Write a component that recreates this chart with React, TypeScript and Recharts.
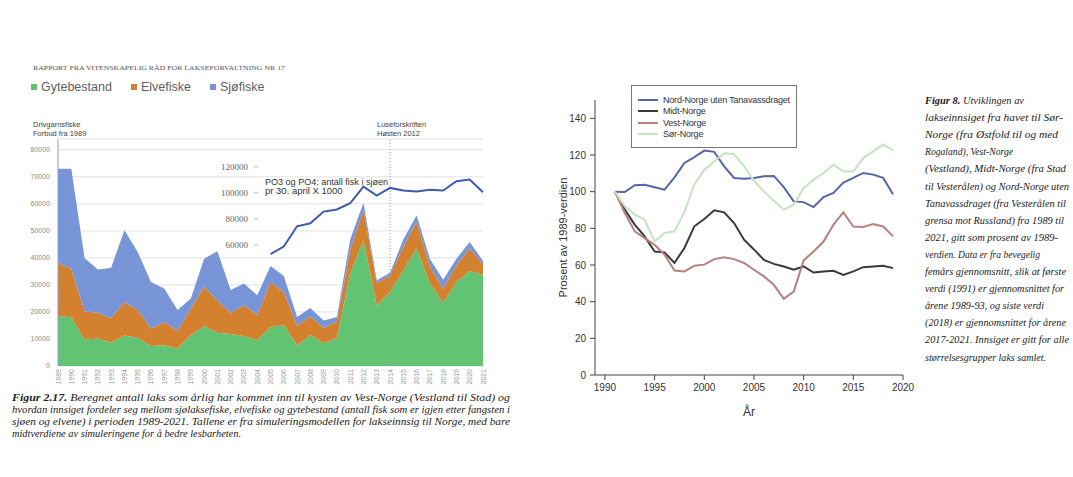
import React from "react";
import {
  ComposedChart,
  LineChart,
  Area,
  Line,
  XAxis,
  YAxis,
  CartesianGrid,
  ReferenceLine,
  Legend,
} from "recharts";

// Figur 2.17 – Vest-Norge
const aar = [
  1989, 1990, 1991, 1992, 1993, 1994, 1995, 1996, 1997, 1998, 1999, 2000, 2001, 2002, 2003, 2004, 2005,
  2006, 2007, 2008, 2009, 2010, 2011, 2012, 2013, 2014, 2015, 2016, 2017, 2018, 2019, 2020, 2021,
];
const gytebestand = [
  18500, 18000, 9800, 10200, 8700, 11300, 10500, 7400, 7700, 6500, 11400, 14800, 12300, 11800, 11100,
  9600, 14300, 15200, 7600, 11500, 8400, 10400, 34200, 46500, 22400, 27400, 35400, 43500, 30500, 23400,
  31100, 35200, 33800,
];
const elvefiske = [
  19800, 18000, 10500, 9500, 9100, 12400, 10200, 6500, 8500, 6500, 9900, 14500, 11800, 7900, 11400, 9300,
  16700, 12200, 7400, 6800, 5700, 6200, 8600, 11200, 8400, 6100, 8700, 9900, 6400, 5200, 6200, 8300, 3800,
];
const sjofiske = [
  34700, 37000, 19700, 16000, 18600, 26500, 21500, 17200, 12500, 7700, 3700, 10400, 18400, 8400, 8000,
  7300, 6000, 5900, 3100, 3200, 2700, 1500, 4000, 2700, 900, 1000, 2700, 2400, 2800, 3300, 2400, 2400, 1300,
];
const po34 = [
  null, null, null, null, null, null, null, null, null, null, null, null, null, null, null, null,
  53000, 58700, 74300, 76600, 85600, 87200, 92000, 104800, 97900, 103800, 101800, 101000, 102300, 101800,
  108900, 110200, 100500,
];
const venstreTicks = [0, 10000, 20000, 30000, 40000, 50000, 60000, 70000, 80000];
const poTicks = [60000, 80000, 100000, 120000];

// Figur 8 – prosent av 1989-verdien
const fylkeAar = [
  1991, 1992, 1993, 1994, 1995, 1996, 1997, 1998, 1999, 2000, 2001, 2002, 2003, 2004, 2005, 2006, 2007,
  2008, 2009, 2010, 2011, 2012, 2013, 2014, 2015, 2016, 2017, 2018, 2019,
];
const nordNorge = [
  100, 99.8, 103.5, 103.8, 102.4, 101.1, 107.8, 115.7, 118.8, 122.4, 121.7, 113.8, 107.5, 107.1, 107.5,
  108.4, 108.6, 102.5, 94.7, 94.3, 91.6, 97.1, 99.3, 105, 107.5, 110.2, 109.3, 107.5, 98.6,
];
const midtNorge = [
  100, 90.2, 82, 75.6, 67.4, 66.9, 61.1, 69.3, 81.1, 85.1, 89.8, 88.7, 82.9, 73.8, 68.5, 62.8, 60.6, 59.2,
  57.4, 59.2, 55.9, 56.5, 56.8, 54.6, 56.5, 58.8, 59.2, 59.6, 58.3,
];
const vestNorge = [
  100, 88.4, 78.4, 74.7, 71, 65.6, 57, 56.5, 59.6, 60.2, 63.2, 64.2, 63.2, 61.1, 57.4, 53.8, 49.2, 41.5,
  45.5, 62.5, 67.4, 72.8, 82, 88.7, 81, 80.7, 82.3, 81, 75.6,
];
const sorNorge = [
  100, 92, 87.5, 84.7, 72.9, 77.5, 78.4, 89, 104, 112, 116.5, 121, 120.5, 114, 106, 100, 95, 90.2, 92.9,
  102, 106.5, 110.2, 114.7, 111, 111, 118.4, 122, 125.7, 122.6,
];
const hoyreYTicks = [0, 20, 40, 60, 80, 100, 120, 140];
const hoyreXTicks = [1990, 1995, 2000, 2005, 2010, 2015, 2020];

const venstreRader = aar.map((a, i) => ({
  aar: String(a),
  gyte: gytebestand[i],
  elv: elvefiske[i],
  sjo: sjofiske[i],
  po: po34[i],
}));

const hoyreRader = fylkeAar.map((a, i) => ({
  aar: a,
  nord: nordNorge[i],
  midt: midtNorge[i],
  vest: vestNorge[i],
  sor: sorNorge[i],
}));

const arealer = [
  { key: "gyte", navn: "Gytebestand", farge: "#62c372" },
  { key: "elv", navn: "Elvefiske", farge: "#d4812f" },
  { key: "sjo", navn: "Sjøfiske", farge: "#7895d7" },
];

const fylker = [
  { key: "nord", navn: "Nord-Norge uten Tanavassdraget", farge: "#5566a8" },
  { key: "midt", navn: "Midt-Norge", farge: "#3a3a3a" },
  { key: "vest", navn: "Vest-Norge", farge: "#b5827f" },
  { key: "sor", navn: "Sør-Norge", farge: "#c6e2c1" },
];

const sans = "'Liberation Sans', Arial, sans-serif";
const serif = "'Liberation Serif', 'Times New Roman', serif";

const AarTick = ({ x, y, payload }: any) => (
  <text
    x={x}
    y={y}
    transform={`rotate(-90, ${x}, ${y})`}
    textAnchor="end"
    dy={2.5}
    fontSize={7}
    fill="#9a9a9a"
    fontFamily={sans}
  >
    {payload.value}
  </text>
);

const poLabel = (v: number) => (props: any) => {
  const vb = props.viewBox;
  const x = vb.x + 190;
  return (
    <g>
      <text x={x} y={vb.y} dy={3} textAnchor="end" fontSize={9} fill="#666" fontFamily={serif}>
        {v}
      </text>
      <line x1={x + 6} x2={x + 10} y1={vb.y} y2={vb.y} stroke="#bbb" />
    </g>
  );
};

const VenstreLegend = () => (
  <div style={{ display: "flex", fontFamily: sans, fontSize: 12.5, color: "#606060", whiteSpace: "nowrap" }}>
    {arealer.map((a) => (
      <div key={a.key} style={{ display: "flex", alignItems: "center", marginRight: 19 }}>
        <span style={{ width: 6, height: 6, background: a.farge, marginRight: 4 }} />
        {a.navn}
      </div>
    ))}
  </div>
);

const HoyreLegend = () => (
  <div
    style={{
      width: 166,
      height: 63,
      boxSizing: "border-box",
      border: "1px solid #777",
      background: "#fff",
      padding: "8px 0 0 6px",
      fontFamily: sans,
      fontSize: 9,
      letterSpacing: -0.2,
      color: "#333",
      whiteSpace: "nowrap",
    }}
  >
    {fylker.map((f) => (
      <div key={f.key} style={{ display: "flex", alignItems: "center", height: 11.5 }}>
        <span style={{ width: 20, height: 2, background: f.farge, marginRight: 5, flexShrink: 0 }} />
        {f.navn}
      </div>
    ))}
  </div>
);

const venstreTekst = [
  "Beregnet antall laks som årlig har kommet inn til kysten av Vest-Norge (Vestland til Stad) og",
  "hvordan innsiget fordeler seg mellom sjølaksefiske, elvefiske og gytebestand (antall fisk som er igjen etter fangsten i",
  "sjøen og elvene) i perioden 1989-2021. Tallene er fra simuleringsmodellen for lakseinnsig til Norge, med bare",
  "midtverdiene av simuleringene for å bedre lesbarheten.",
];
const venstreBredde = [498, 498, 498, 229];

const hoyreTekst = [
  "Utviklingen av",
  "lakseinnsiget fra havet til Sør-",
  "Norge (fra Østfold til og med",
  "Rogaland), Vest-Norge",
  "(Vestland), Midt-Norge (fra Stad",
  "til Vesterålen) og Nord-Norge uten",
  "Tanavassdraget (fra Vesterålen til",
  "grensa mot Russland) fra 1989 til",
  "2021, gitt som prosent av 1989-",
  "verdien. Data er fra bevegelig",
  "femårs gjennomsnitt, slik at første",
  "verdi (1991) er gjennomsnittet for",
  "årene 1989-93, og siste verdi",
  "(2018) er gjennomsnittet for årene",
  "2017-2021. Innsiget er gitt for alle",
  "størrelsesgrupper laks samlet.",
];
const hoyreBredde = [99, 138, 133, 88, 141, 144, 141, 139, 133, 115, 141, 139, 119, 141, 144, 121];

export default function App() {
  return (
    <div style={{ position: "absolute", left: 0, top: 0, width: 1073, height: 477, background: "#fff" }}>
      <div style={{ position: "absolute", left: 0, top: 0 }}>
        <ComposedChart
          width={540}
          height={386}
          data={venstreRader}
          margin={{ top: 139, right: 57, bottom: 0, left: 0 }}
        >
          <CartesianGrid vertical={false} stroke="#e2e2e2" />
          <XAxis
            dataKey="aar"
            interval={0}
            height={20}
            axisLine={false}
            tickLine={false}
            tickSize={0}
            tickMargin={3}
            tick={<AarTick />}
          />
          <YAxis
            domain={[0, 84000]}
            ticks={venstreTicks}
            width={58}
            axisLine={false}
            tickLine={false}
            tickSize={0}
            tickMargin={8}
            tick={{ fontSize: 7, fill: "#8a8a8a", fontFamily: sans }}
          />
          <YAxis yAxisId="po" hide domain={[-33077, 141385]} ticks={poTicks} />
          {arealer.map((a) => (
            <Area
              key={a.key}
              dataKey={a.key}
              name={a.navn}
              stackId="laks"
              type="linear"
              fill={a.farge}
              fillOpacity={1}
              stroke="none"
              isAnimationActive={false}
            />
          ))}
          <ReferenceLine x="1989" stroke="#86a0da" />
          <ReferenceLine x="2014" stroke="#999" strokeDasharray="1 2" />
          {poTicks.map((v) => (
            <ReferenceLine key={v} yAxisId="po" y={v} stroke="none" label={poLabel(v)} />
          ))}
          <Line
            yAxisId="po"
            dataKey="po"
            name="PO3 og PO4"
            type="linear"
            stroke="#3d5aae"
            strokeWidth={2}
            dot={false}
            legendType="none"
            isAnimationActive={false}
          />
          <Legend
            layout="vertical"
            align="center"
            verticalAlign="middle"
            wrapperStyle={{ left: 31, top: 80, width: 300 }}
            content={() => <VenstreLegend />}
          />
        </ComposedChart>
      </div>

      <div style={{ position: "absolute", left: 540, top: 0 }}>
        <LineChart
          width={400}
          height={440}
          data={hoyreRader}
          margin={{ top: 100, right: 37, bottom: 35, left: 10 }}
        >
          <XAxis
            dataKey="aar"
            type="number"
            domain={[1989, 2020]}
            ticks={hoyreXTicks}
            height={30}
            stroke="#444"
            tickSize={5}
            tickMargin={4}
            tick={{ fontSize: 10, fill: "#333", fontFamily: sans }}
            label={{ value: "År", position: "bottom", offset: 2, fontSize: 12, fill: "#333", fontFamily: sans }}
          />
          <YAxis
            domain={[0, 150]}
            ticks={hoyreYTicks}
            width={45}
            stroke="#444"
            tickSize={5}
            tickMargin={4}
            tick={{ fontSize: 10, fill: "#333", fontFamily: sans }}
            label={{
              value: "Prosent av 1989-verdien",
              angle: -90,
              position: "insideLeft",
              offset: 13,
              fontSize: 11,
              fill: "#333",
              fontFamily: sans,
              style: { textAnchor: "middle" },
            }}
          />
          {fylker.map((f) => (
            <Line
              key={f.key}
              dataKey={f.key}
              name={f.navn}
              type="linear"
              stroke={f.farge}
              strokeWidth={2}
              dot={false}
              isAnimationActive={false}
            />
          ))}
          <Legend
            layout="vertical"
            align="center"
            verticalAlign="middle"
            wrapperStyle={{ left: 91, top: 85, width: 170 }}
            content={() => <HoyreLegend />}
          />
        </LineChart>
      </div>

      <svg
        width={1073}
        height={477}
        style={{ position: "absolute", left: 0, top: 0, pointerEvents: "none" }}
      >
        <text x={33} y={69.5} fontSize={6.5} fill="#555" fontFamily={serif} textLength={252} lengthAdjust="spacingAndGlyphs">
          RAPPORT FRA VITENSKAPELIG RÅD FOR LAKSEFORVALTNING NR 17
        </text>
        <g fontFamily={sans} fontSize={7.5} fill="#444">
          <text x={33} y={127}>Drivgarnsfiske</text>
          <text x={33} y={135.5}>Forbud fra 1989</text>
          <text x={377} y={127}>Luseforskriften</text>
          <text x={377} y={135.5}>Høsten 2012</text>
        </g>
        <g fontFamily={sans} fontSize={9.5} fill="#333">
          <text x={265} y={185} textLength={123} lengthAdjust="spacingAndGlyphs">
            PO3 og PO4: antall fisk i sjøen
          </text>
          <text x={265} y={194}>pr 30. april X 1000</text>
        </g>
        <g fontFamily={serif} fontSize={11} fontStyle="italic" fill="#222">
          {venstreTekst.map((t, i) => (
            <text
              key={i}
              x={12}
              y={400.5 + i * 12}
              textLength={venstreBredde[i]}
              lengthAdjust="spacingAndGlyphs"
            >
              {i === 0 && <tspan fontWeight="bold">Figur 2.17. </tspan>}
              {t}
            </text>
          ))}
        </g>
        <g fontFamily={serif} fontSize={10.5} fontStyle="italic" fill="#222">
          {hoyreTekst.map((t, i) => (
            <text
              key={i}
              x={925}
              y={104 + i * 17.1}
              textLength={hoyreBredde[i]}
              lengthAdjust="spacingAndGlyphs"
            >
              {i === 0 && <tspan fontWeight="bold">Figur 8. </tspan>}
              {t}
            </text>
          ))}
        </g>
      </svg>
    </div>
  );
}
